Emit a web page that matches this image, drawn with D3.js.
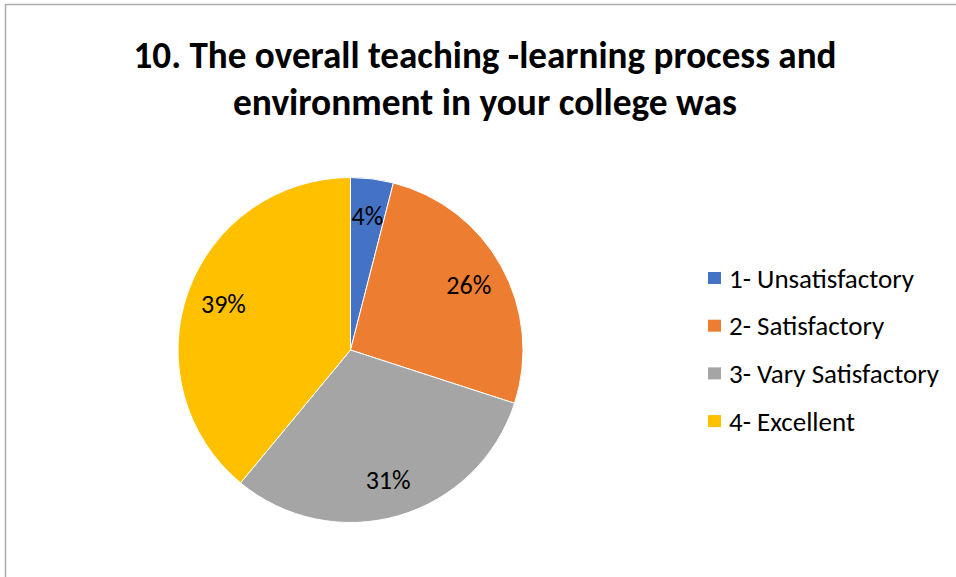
<!DOCTYPE html>
<html lang="en">
<head>
<meta charset="utf-8">
<title>Teaching-learning process pie</title>
<script src="https://cdnjs.cloudflare.com/ajax/libs/d3/7.8.5/d3.min.js"></script>
<style>
  html, body { margin: 0; padding: 0; background: #fff; }
  svg { display: block; }
  text { font-family: Calibri, Carlito, "Open Sans", sans-serif; fill: #000; }
</style>
</head>
<body>
<div id="vis"></div>
<script>
var categories = ['1- Unsatisfactory', '2- Satisfactory', '3- Vary Satisfactory', '4- Excellent'];
var values = [4, 26, 31, 39];
var colors = ['#4472C4', '#ED7D31', '#A5A5A5', '#FFC000'];
var titleLines = ['10. The overall teaching -learning process and', 'environment in your college was'];

var width = 956, height = 577;
var cx = 350.5, cy = 350, radius = 172.5;

var svg = d3.select('#vis').append('svg')
  .attr('width', width)
  .attr('height', height);

// chart frame (right and bottom edges run off the page)
svg.append('rect')
  .attr('x', 5.5).attr('y', 4.5)
  .attr('width', width + 20).attr('height', height + 20)
  .attr('fill', 'none')
  .attr('stroke', '#ababab')
  .attr('stroke-width', 1.5);

// title
var titleWidths = [703, 504];
svg.append('g').selectAll('text')
  .data(titleLines)
  .enter().append('text')
  .attr('x', 485)
  .attr('y', function(d, i) { return 68 + i * 47; })
  .attr('text-anchor', 'middle')
  .attr('font-size', 38)
  .attr('font-weight', 'bold')
  .attr('textLength', function(d, i) { return titleWidths[i]; })
  .attr('lengthAdjust', 'spacingAndGlyphs')
  .text(function(d) { return d; });

var data = categories.map(function(c, i) { return { name: c, value: values[i], color: colors[i] }; });

var pie = d3.pie()
  .sort(null)
  .value(function(d) { return d.value; });

var arc = d3.arc().innerRadius(0).outerRadius(radius);
var labelArc = d3.arc().innerRadius(135).outerRadius(135);

var g = svg.append('g').attr('transform', 'translate(' + cx + ',' + cy + ')');

var arcs = pie(data);

g.selectAll('.slice')
  .data(arcs)
  .enter().append('path')
  .attr('class', 'slice')
  .attr('d', arc)
  .attr('fill', function(d) { return d.data.color; })
  .attr('stroke', '#fff')
  .attr('stroke-width', 1);

g.selectAll('.label')
  .data(arcs)
  .enter().append('text')
  .attr('class', 'label')
  .attr('transform', function(d) { return 'translate(' + labelArc.centroid(d) + ')'; })
  .attr('text-anchor', 'middle')
  .attr('dy', '0.35em')
  .attr('font-size', 26)
  .text(function(d) { return d.data.value + '%'; });

// legend
var legend = svg.append('g').attr('transform', 'translate(708, 278)');
var items = legend.selectAll('.item')
  .data(data)
  .enter().append('g')
  .attr('class', 'item')
  .attr('transform', function(d, i) { return 'translate(0,' + (i * 47.7) + ')'; });

items.append('rect')
  .attr('x', 0).attr('y', -6)
  .attr('width', 13).attr('height', 12)
  .attr('fill', function(d) { return d.color; });

items.append('text')
  .attr('x', 21)
  .attr('dy', '0.36em')
  .attr('font-size', 27)
  .text(function(d) { return d.name; });
</script>
</body>
</html>
